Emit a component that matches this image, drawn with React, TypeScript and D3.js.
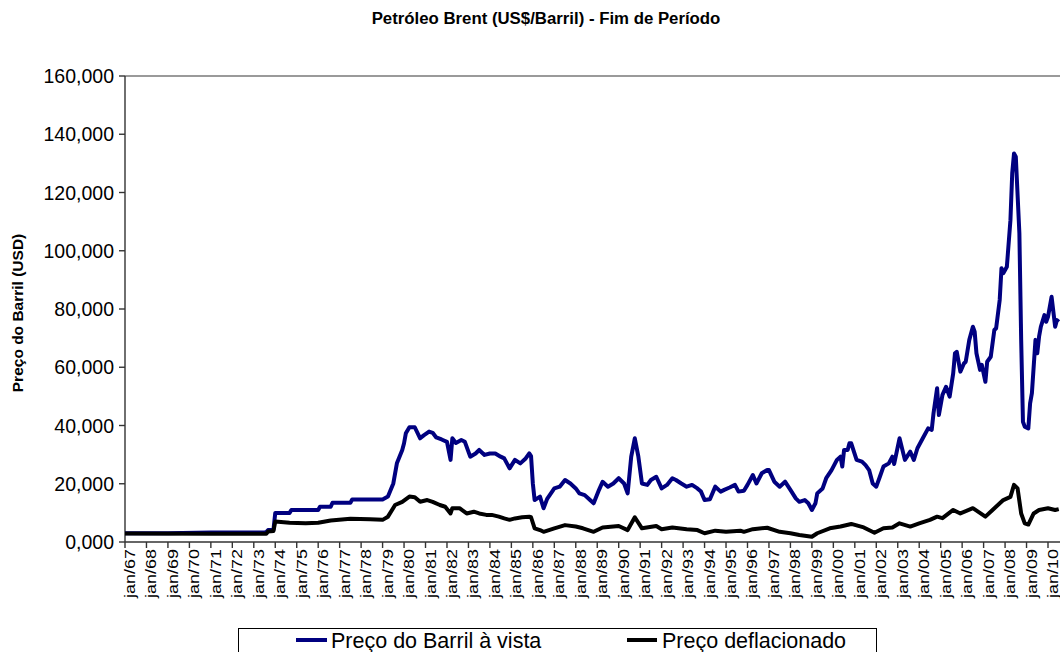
import React, { useEffect } from "react";
import * as d3 from "d3";

// ---------- DATA ----------
const spotSeries: [string, number][] = [
  ["1967-01", 3.0], ["1969-01", 3.0], ["1971-01", 3.3], ["1973-07", 3.3], ["1973-08", 3.4], ["1973-09", 4.1], ["1973-12", 4.2],
  ["1974-01", 10.0], ["1974-09", 10.0], ["1974-10", 11.0], ["1976-01", 11.0], ["1976-02", 12.1], ["1976-08", 12.1], ["1976-09", 13.5],
  ["1977-07", 13.5], ["1977-08", 14.6], ["1979-01", 14.6], ["1979-04", 15.6], ["1979-07", 20.1], ["1979-09", 27.0], ["1979-12", 31.6],
  ["1980-01", 33.9], ["1980-02", 37.3], ["1980-04", 39.4], ["1980-07", 39.4], ["1980-10", 35.6], ["1980-12", 36.6], ["1981-03", 37.9],
  ["1981-05", 37.5], ["1981-07", 35.9], ["1981-10", 35.2], ["1982-01", 34.4], ["1982-03", 28.2], ["1982-04", 35.6], ["1982-06", 34.0],
  ["1982-09", 35.0], ["1982-11", 34.4], ["1983-02", 29.3], ["1983-05", 30.4], ["1983-07", 31.6], ["1983-10", 29.9], ["1984-01", 30.4],
  ["1984-04", 30.4], ["1984-07", 29.3], ["1984-09", 28.7], ["1984-12", 25.3], ["1985-03", 28.2], ["1985-06", 27.0], ["1985-09", 28.7],
  ["1985-11", 30.4], ["1985-12", 29.5], ["1986-01", 20.1], ["1986-02", 14.4], ["1986-05", 15.6], ["1986-07", 11.6], ["1986-09", 14.8],
  ["1987-01", 18.4], ["1987-04", 19.0], ["1987-07", 21.3], ["1987-10", 20.1], ["1988-01", 18.4], ["1988-03", 16.7], ["1988-06", 16.1],
  ["1988-09", 14.4], ["1988-11", 13.3], ["1989-02", 17.9], ["1989-04", 20.7], ["1989-07", 19.0], ["1989-10", 20.1], ["1990-01", 21.9],
  ["1990-04", 20.1], ["1990-06", 16.7], ["1990-08", 29.3], ["1990-10", 35.6], ["1990-12", 29.3], ["1991-02", 20.1], ["1991-05", 19.6],
  ["1991-07", 21.3], ["1991-10", 22.4], ["1992-01", 18.4], ["1992-04", 19.6], ["1992-07", 21.9], ["1992-09", 21.3], ["1992-12", 20.1],
  ["1993-03", 19.0], ["1993-06", 19.6], ["1993-09", 18.4], ["1993-11", 17.3], ["1994-01", 14.4], ["1994-04", 14.7], ["1994-07", 19.0],
  ["1994-10", 17.3], ["1994-12", 17.9], ["1995-03", 18.7], ["1995-06", 19.6], ["1995-08", 17.3], ["1995-11", 17.6], ["1996-01", 19.6],
  ["1996-04", 23.0], ["1996-06", 20.1], ["1996-09", 23.6], ["1996-12", 24.7], ["1997-01", 24.7], ["1997-04", 20.7], ["1997-07", 19.0],
  ["1997-10", 20.7], ["1998-01", 17.9], ["1998-04", 15.0], ["1998-06", 13.8], ["1998-09", 14.4], ["1998-11", 13.3], ["1999-01", 11.0],
  ["1999-03", 13.3], ["1999-04", 16.7], ["1999-07", 18.4], ["1999-09", 21.9], ["1999-12", 24.7], ["2000-03", 28.2], ["2000-05", 29.3],
  ["2000-06", 25.9], ["2000-07", 31.6], ["2000-09", 31.6], ["2000-10", 33.9], ["2000-11", 33.9], ["2001-02", 28.2], ["2001-05", 27.6],
  ["2001-07", 26.4], ["2001-09", 24.7], ["2001-11", 20.1], ["2002-01", 19.0], ["2002-03", 22.4], ["2002-05", 25.9], ["2002-08", 27.0],
  ["2002-10", 29.3], ["2002-11", 26.8], ["2003-02", 35.6], ["2003-05", 28.2], ["2003-08", 31.0], ["2003-10", 28.2], ["2003-12", 32.2],
  ["2004-03", 35.6], ["2004-06", 39.0], ["2004-08", 38.5], ["2004-09", 44.2], ["2004-11", 52.8], ["2004-12", 43.6], ["2005-02", 50.5],
  ["2005-04", 53.3], ["2005-06", 49.9], ["2005-08", 57.9], ["2005-09", 64.8], ["2005-10", 65.3], ["2005-12", 58.5], ["2006-02", 61.3],
  ["2006-03", 61.9], ["2006-05", 69.4], ["2006-07", 73.9], ["2006-08", 72.2], ["2006-09", 64.8], ["2006-11", 59.1], ["2006-12", 60.8],
  ["2007-02", 55.0], ["2007-03", 61.9], ["2007-05", 63.6], ["2007-07", 72.8], ["2007-08", 73.4], ["2007-10", 83.1], ["2007-11", 94.0],
  ["2007-12", 92.3], ["2008-02", 94.5], ["2008-04", 110.5], ["2008-05", 126.6], ["2008-06", 133.4], ["2008-07", 132.3], ["2008-09", 106.0],
  ["2008-10", 69.4], ["2008-11", 41.3], ["2008-12", 39.6], ["2009-02", 39.0], ["2009-03", 47.6], ["2009-04", 51.1], ["2009-06", 69.4],
  ["2009-07", 64.8], ["2009-08", 70.5], ["2009-09", 73.9], ["2009-11", 77.9], ["2009-12", 75.6], ["2010-01", 77.3], ["2010-03", 84.2],
  ["2010-05", 73.9], ["2010-06", 76.2], ["2010-07", 75.6],
];

const deflatedSeries: [string, number][] = [
  ["1967-01", 2.9], ["1971-01", 2.8], ["1973-08", 2.8], ["1973-09", 3.6], ["1973-12", 3.8], ["1974-01", 7.0], ["1974-09", 6.6],
  ["1975-06", 6.4], ["1976-01", 6.6], ["1976-08", 7.4], ["1977-07", 8.0], ["1978-06", 7.8], ["1979-01", 7.6], ["1979-04", 8.7],
  ["1979-08", 12.7], ["1979-12", 13.8], ["1980-04", 15.6], ["1980-07", 15.4], ["1980-10", 13.8], ["1981-02", 14.4], ["1981-05", 13.8],
  ["1981-09", 12.7], ["1981-12", 12.1], ["1982-03", 9.8], ["1982-04", 11.6], ["1982-08", 11.6], ["1982-12", 9.8], ["1983-04", 10.4],
  ["1983-07", 9.8], ["1983-11", 9.3], ["1984-02", 9.3], ["1984-06", 8.7], ["1984-09", 8.1], ["1984-12", 7.6], ["1985-03", 8.1],
  ["1985-07", 8.5], ["1985-11", 8.7], ["1985-12", 8.5], ["1986-02", 4.7], ["1986-05", 4.1], ["1986-07", 3.5], ["1987-01", 4.7],
  ["1987-07", 5.8], ["1988-01", 5.3], ["1988-05", 4.7], ["1988-11", 3.5], ["1989-04", 5.0], ["1990-01", 5.5], ["1990-06", 4.1],
  ["1990-10", 8.5], ["1991-02", 4.7], ["1991-10", 5.5], ["1992-01", 4.4], ["1992-07", 5.0], ["1993-03", 4.4], ["1993-09", 4.1],
  ["1994-01", 3.0], ["1994-07", 3.9], ["1995-01", 3.5], ["1995-09", 3.9], ["1995-11", 3.5], ["1996-04", 4.4], ["1996-12", 4.9],
  ["1997-07", 3.5], ["1998-01", 3.0], ["1998-06", 2.4], ["1999-01", 1.8], ["1999-04", 3.0], ["1999-11", 4.7], ["2000-05", 5.3],
  ["2000-11", 6.2], ["2001-06", 5.0], ["2001-12", 3.2], ["2002-05", 4.7], ["2002-10", 5.0], ["2003-02", 6.4], ["2003-08", 5.3],
  ["2004-01", 6.4], ["2004-07", 7.6], ["2004-11", 8.7], ["2005-02", 8.2], ["2005-08", 11.0], ["2005-12", 9.8], ["2006-07", 11.6],
  ["2007-02", 8.7], ["2007-06", 11.0], ["2007-12", 14.4], ["2008-04", 15.5], ["2008-06", 19.6], ["2008-08", 18.4], ["2008-10", 9.8],
  ["2008-12", 6.4], ["2009-02", 6.0], ["2009-05", 9.8], ["2009-08", 11.0], ["2010-01", 11.6], ["2010-05", 11.0], ["2010-07", 11.3],
];

const tickYears: number[] = d3.range(1967, 2011);
const yTickValues: number[] = [0, 20, 40, 60, 80, 100, 120, 140, 160];

const titleText = "Petróleo Brent (US$/Barril) - Fim de Período";
const yAxisTitle = "Preço do Barril (USD)";
const seriesNames = ["Preço do Barril à vista", "Preço deflacionado"];
const seriesColors = ["#000080", "#000000"];

// ---------- HELPERS ----------
const monthIndex = (s: string) => {
  const [y, m] = s.split("-").map(Number);
  return (y - 1967) * 12 + (m - 1);
};
const fmtY = (v: number) => d3.format(".3f")(v).replace(".", ",");

const W = 1060;
const H = 652;
const FONT = "Arial, 'Liberation Sans', Helvetica, sans-serif";

export default function App() {
  useEffect(() => {
    document.body.style.margin = "0";
  }, []);

  const x = d3.scaleLinear().domain([0, (2010 - 1967) * 12]).range([125, 1048]);
  const y = d3.scaleLinear().domain([0, 160]).range([542, 76]);

  const line = d3
    .line<[string, number]>()
    .x((d) => x(monthIndex(d[0])))
    .y((d) => y(d[1]))
    .curve(d3.curveLinear);

  const x0 = x(0);
  const y0 = y(0);

  return (
    <svg width={W} height={H} style={{ display: "block", background: "#fff" }} fontFamily={FONT}>
      <rect x={0} y={0} width={W} height={H} fill="#fff" />
      {/* title */}
      <text x={546} y={24} textAnchor="middle" fontWeight="bold" fontSize={16.8} fill="#000">
        {titleText}
      </text>

      {/* plot top border */}
      <line x1={x0} x2={W} y1={y(160)} y2={y(160)} stroke="#9a9a9a" strokeWidth={1.8} />

      {/* y axis */}
      <line x1={x0} x2={x0} y1={y(160)} y2={y0} stroke="#333" strokeWidth={1.4} />
      {yTickValues.map((v) => (
        <g key={v}>
          <line x1={x0 - 6} x2={x0} y1={y(v)} y2={y(v)} stroke="#333" strokeWidth={1.4} />
          <text x={x0 - 11} y={y(v)} dy="0.36em" textAnchor="end" fontSize={19.5} fill="#000">
            {fmtY(v)}
          </text>
        </g>
      ))}
      <text
        transform={`translate(23, 313) rotate(-90)`}
        textAnchor="middle"
        fontWeight="bold"
        fontSize={15.5}
        fill="#000"
      >
        {yAxisTitle}
      </text>

      {/* x axis */}
      <line x1={x0} x2={W} y1={y0} y2={y0} stroke="#333" strokeWidth={1.4} />
      {tickYears.map((yr) => {
        const tx = x((yr - 1967) * 12);
        return (
          <g key={yr}>
            <line x1={tx} x2={tx} y1={y0} y2={y0 + 6} stroke="#333" strokeWidth={1.4} />
            <text
              transform={`translate(${tx + 10}, ${y0 + 7}) rotate(-90) scale(1, 0.8)`}
              textAnchor="end"
              fontSize={18}
              fill="#000"
            >
              {`jan/${String(yr % 100).padStart(2, "0")}`}
            </text>
          </g>
        );
      })}

      {/* series */}
      <path d={line(spotSeries) || ""} fill="none" stroke={seriesColors[0]} strokeWidth={4} strokeLinejoin="round" />
      <path d={line(deflatedSeries) || ""} fill="none" stroke={seriesColors[1]} strokeWidth={4} strokeLinejoin="round" />

      {/* legend */}
      <rect x={238.5} y={628.5} width={638} height={40} fill="#fff" stroke="#000" strokeWidth={1} />
      <line x1={296} x2={327} y1={640} y2={640} stroke={seriesColors[0]} strokeWidth={4} />
      <text x={331} y={648} fontSize={21.5} fill="#000">{seriesNames[0]}</text>
      <line x1={627} x2={657} y1={640} y2={640} stroke={seriesColors[1]} strokeWidth={4} />
      <text x={662} y={648} fontSize={21.5} fill="#000">{seriesNames[1]}</text>
    </svg>
  );
}
